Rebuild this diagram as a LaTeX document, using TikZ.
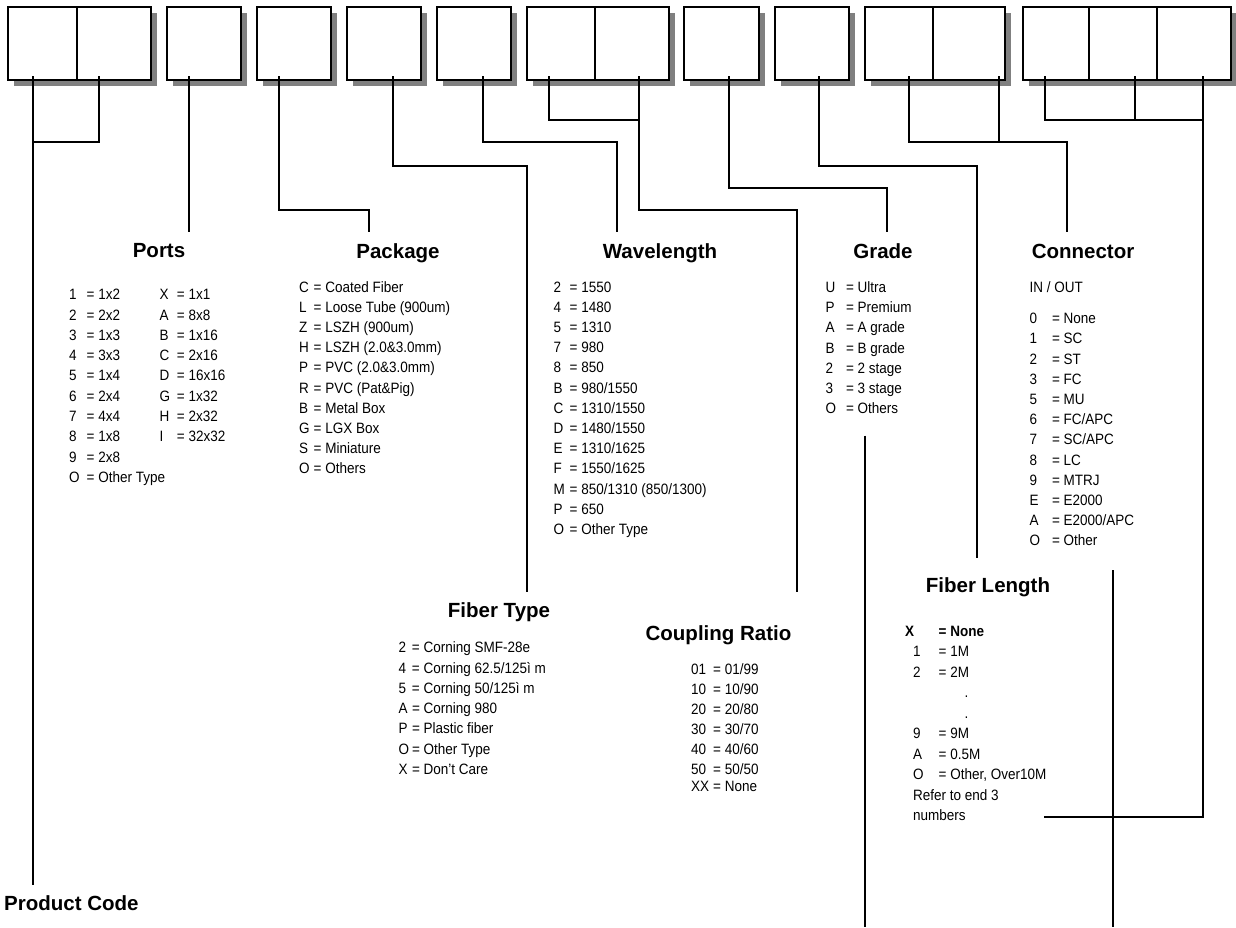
\documentclass[tikz,border=0pt]{standalone}
\usepackage{fontspec}
\setmainfont{Liberation Sans}
\newfontfamily\listfont[FakeStretch=0.9]{Liberation Sans}
\usetikzlibrary{shadows}

\newcommand\codes[2][5pt]{\begin{tabular}[t]{@{}l@{\hspace{#1}}l@{}}#2\end{tabular}}

\begin{document}
\begin{tikzpicture}[x=1pt,y=-1pt,
    cell/.style={draw,fill=white,line width=2pt,minimum height=73pt,inner sep=0pt,
      drop shadow={shadow xshift=6pt,shadow yshift=-6pt,fill=black!50,opacity=1}},
    heading/.style={font=\bfseries\fontsize{20.5}{24}\selectfont,inner sep=0pt,anchor=base},
    entries/.style={font=\listfont\fontsize{15}{20.2}\selectfont,inner sep=0pt,anchor=base west},
    wire/.style={draw,line width=2pt}
  ]
  \useasboundingbox (0,0) rectangle (1236,927);

  %code boxes
  \node[cell,minimum width=69pt] (code1) at (42.5,43.5) {};
  \node[cell,minimum width=74pt] (code2) at (114,43.5) {};
  \node[cell,minimum width=74pt] (port) at (204,43.5) {};
  \node[cell,minimum width=74pt] (pack) at (294,43.5) {};
  \node[cell,minimum width=74pt] (fiber) at (384,43.5) {};
  \node[cell,minimum width=74pt] (wave) at (474,43.5) {};
  \node[cell,minimum width=68pt] (ratio1) at (561,43.5) {};
  \node[cell,minimum width=74pt] (ratio2) at (632,43.5) {};
  \node[cell,minimum width=75pt] (grade) at (721.5,43.5) {};
  \node[cell,minimum width=74pt] (length) at (812,43.5) {};
  \node[cell,minimum width=68pt] (conn1) at (899,43.5) {};
  \node[cell,minimum width=72pt] (conn2) at (969,43.5) {};
  \node[cell,minimum width=66pt] (end1) at (1056,43.5) {};
  \node[cell,minimum width=68pt] (end2) at (1123,43.5) {};
  \node[cell,minimum width=74pt] (end3) at (1194,43.5) {};

  %headings
  \node[heading] (ports) at (159,257.3) {Ports};
  \node[heading] (package) at (398,258) {Package};
  \node[heading] (wavelength) at (660,258) {Wavelength};
  \node[heading] (gradeT) at (883,258) {Grade};
  \node[heading] (connector) at (1083,258) {Connector};
  \node[heading] (fibertype) at (499,617.3) {Fiber Type};
  \node[heading] (ratio) at (718.5,640.6) {Coupling Ratio};
  \node[heading] (fiberlength) at (988,592.3) {Fiber Length};
  \node[heading,anchor=base west] (product) at (4,910) {Product Code};

  %lists
  \node[entries,font=\listfont\fontsize{15}{20.3}\selectfont] (portsA) at (69,299.7) {\codes[7pt]{
    1 & = 1x2\\ 2 & = 2x2\\ 3 & = 1x3\\ 4 & = 3x3\\ 5 & = 1x4\\
    6 & = 2x4\\ 7 & = 4x4\\ 8 & = 1x8\\ 9 & = 2x8\\ O & = Other Type}};
  \node[entries,font=\listfont\fontsize{15}{20.3}\selectfont] (portsB) at (159.3,299.7) {\codes[7pt]{
    X & = 1x1\\ A & = 8x8\\ B & = 1x16\\ C & = 2x16\\ D & = 16x16\\
    G & = 1x32\\ H & = 2x32\\ I & = 32x32}};
  \node[entries] (packL) at (299,292.1) {\codes[4pt]{
    C & = Coated Fiber\\ L & = Loose Tube (900um)\\ Z & = LSZH (900um)\\
    H & = LSZH (2.0\&3.0mm)\\ P & = PVC (2.0\&3.0mm)\\ R & = PVC (Pat\&Pig)\\
    B & = Metal Box\\ G & = LGX Box\\ S & = Miniature\\ O & = Others}};
  \node[entries] (waveL) at (553.3,292.1) {\codes{
    2 & = 1550\\ 4 & = 1480\\ 5 & = 1310\\ 7 & = 980\\ 8 & = 850\\
    B & = 980/1550\\ C & = 1310/1550\\ D & = 1480/1550\\ E & = 1310/1625\\
    F & = 1550/1625\\ M & = 850/1310 (850/1300)\\ P & = 650\\ O & = Other Type}};
  \node[entries,font=\listfont\fontsize{15}{20.3}\selectfont] (gradeL) at (825.3,292.1) {\codes[10pt]{
    U & = Ultra\\ P & = Premium\\ A & = A grade\\ B & = B grade\\
    2 & = 2 stage\\ 3 & = 3 stage\\ O & = Others}};
  \node[entries] (inout) at (1029.3,292.1) {IN / OUT};
  \node[entries] (connL) at (1029.3,323.7) {\codes[12pt]{
    0 & = None\\ 1 & = SC\\ 2 & = ST\\ 3 & = FC\\ 5 & = MU\\ 6 & = FC/APC\\
    7 & = SC/APC\\ 8 & = LC\\ 9 & = MTRJ\\ E & = E2000\\ A & = E2000/APC\\ O & = Other}};
  \node[entries,font=\listfont\fontsize{15}{20.3}\selectfont] (fiberL) at (398.3,652.7) {\codes[3pt]{
    2 & = Corning SMF-28e\\ 4 & = Corning 62.5/125ì m\\ 5 & = Corning 50/125ì m\\
    A & = Corning 980\\ P & = Plastic fiber\\ O & = Other Type\\ X & = Don’t Care}};
  \node[entries,font=\listfont\fontsize{15}{20}\selectfont] (ratioL) at (691,674.4) {\codes[4pt]{
    01 & = 01/99\\ 10 & = 10/90\\ 20 & = 20/80\\ 30 & = 30/70\\ 40 & = 40/60\\
    50 & = 50/50\\[-2.5pt] XX & = None}};
  \node[entries,font=\listfont\fontsize{15}{20.5}\selectfont] (lengthL) at (913,636.1) {\codes[15pt]{
    \hspace*{-8pt}\textbf{X} & \textbf{= None}\\ 1 & = 1M\\ 2 & = 2M\\
    & \hspace*{26pt}.\\ & \hspace*{26pt}.\\ 9 & = 9M\\ A & = 0.5M\\
    O & = Other, Over10M\\ \multicolumn{2}{@{}l@{}}{Refer to end 3}\\
    \multicolumn{2}{@{}l@{}}{numbers}}};

  %product code
  \draw[wire] ([xshift=-9.5pt,yshift=5pt]code1.south) -- (33,885);
  \draw[wire] ([xshift=-15pt,yshift=5pt]code2.south) |- (33,141.7);
  %ports
  \draw[wire] ([xshift=-15pt,yshift=5pt]port.south) -- (189,232);
  %package
  \draw[wire] ([xshift=-15.3pt,yshift=5pt]pack.south) |- (368.5,210) -- (368.5,232);
  %fiber type
  \draw[wire] ([xshift=9pt,yshift=5pt]fiber.south) |- (526.7,165.7) -- (526.7,591.7);
  %wavelength
  \draw[wire] ([xshift=8.7pt,yshift=5pt]wave.south) |- (617,141.7) -- (617,232);
  %coupling ratio
  \draw[wire] ([xshift=-12.3pt,yshift=5pt]ratio1.south) |- (638.7,119.7);
  \draw[wire] ([xshift=6.7pt,yshift=5pt]ratio2.south) |- (797,210) -- (797,591.7);
  %grade
  \draw[wire] ([xshift=7.5pt,yshift=5pt]grade.south) |- (886.7,187.7) -- (886.7,232);
  %fiber length
  \draw[wire] ([xshift=7pt,yshift=5pt]length.south) |- (977,165.7) -- (977,558);
  %connector
  \draw[wire] ([xshift=9.7pt,yshift=5pt]conn1.south) |- (1066.7,141.7) -- (1066.7,232);
  \draw[wire] ([xshift=29.7pt,yshift=5pt]conn2.south) -- (998.7,141.7);
  %end numbers
  \draw[wire] ([xshift=-11.3pt,yshift=5pt]end1.south) |- (1203,119.7);
  \draw[wire] ([xshift=12pt,yshift=5pt]end2.south) -- (1135,119.7);
  \draw[wire] ([xshift=9pt,yshift=5pt]end3.south) |- (1044.3,817.3);
  %loose lines
  \draw[wire] (865,435.7) -- (865,927);
  \draw[wire] (1112.7,570) -- (1112.7,927);
\end{tikzpicture}
\end{document}
